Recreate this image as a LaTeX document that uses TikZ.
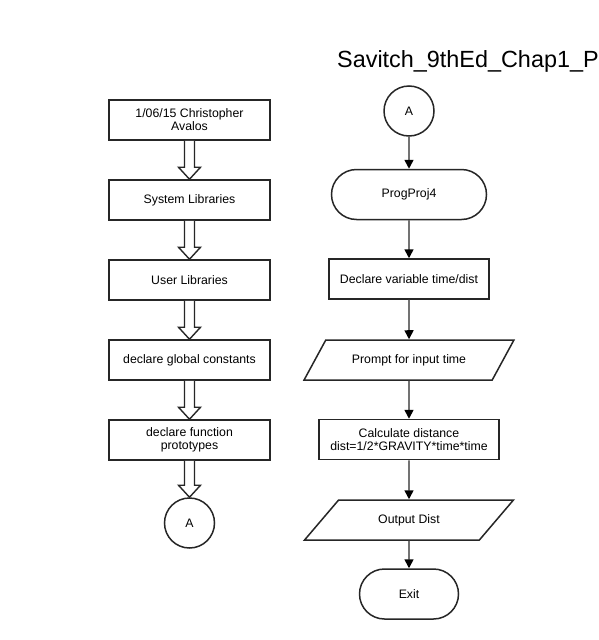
\documentclass[tikz,border=0pt]{standalone}
\usepackage{fontspec}
\setmainfont{Liberation Sans}
\usetikzlibrary{arrows.meta,shapes.geometric,calc}
\begin{document}
\begin{tikzpicture}[x=1pt,y=-1pt,
  base/.style={draw=black!85, line width=1.5pt, inner sep=0pt, align=center,
    font=\fontsize{12.3}{13}\selectfont},
  proc/.style={base, rectangle, minimum height=40pt},
  term/.style={base, rectangle, rounded corners=25pt, minimum height=50pt},
  conn/.style={base, circle, minimum size=50pt},
  io/.style={base, trapezium, trapezium left angle=37.6, trapezium right angle=142.4,
    trapezium stretches=true, minimum width=210pt, minimum height=40pt},
  flow/.style={draw=black!55, line width=1.6pt, -{Triangle[length=9pt,width=9pt,color=black]}},
  hollow/.style={draw=black!85, line width=1.4pt, fill=white, line join=miter}
]
\useasboundingbox (0,0) rectangle (599,640);
\clip (0,0) rectangle (599,640);
\fill[white] (0,0) rectangle (599,640);

\node[anchor=base west, font=\fontsize{23.4}{26}\selectfont, inner sep=0pt] (title) at (337,67) {Savitch\_9thEd\_Chap1\_P};

% left column
\node[proc, minimum width=161pt] (l1) at (189.5,120) {1/06/15 Christopher\\Avalos};
\node[proc, minimum width=161pt] (l2) at (189.5,200) {System Libraries};
\node[proc, minimum width=161pt] (l3) at (189.5,280) {User Libraries};
\node[proc, minimum width=161pt] (l4) at (189.5,360) {declare global constants};
\node[proc, minimum width=161pt] (l5) at (189.5,440) {declare function\\prototypes};
\node[conn] (la) at (189.5,523) {A};

\foreach \a/\b in {l1/l2,l2/l3,l3/l4,l4/l5,l5/la}{
  \draw[hollow] ([xshift=-5pt]\a.south) -- ([xshift=-5pt,yshift=12pt]\b.north)
    -- ([xshift=-11pt,yshift=12pt]\b.north) -- (\b.north)
    -- ([xshift=11pt,yshift=12pt]\b.north) -- ([xshift=5pt,yshift=12pt]\b.north)
    -- ([xshift=5pt]\a.south);
}

% right column
\node[conn] (ra) at (409,111) {A};
\node[term, minimum width=155pt] (r1) at (409,194.5) {ProgProj4};
\node[proc, minimum width=160pt] (r2) at (409,279) {Declare variable time/dist};
\node[io] (r3) at (409,360) {Prompt for input time};
\node[proc, minimum width=180pt] (r4) at (409,439.5) {Calculate distance\\dist=1/2*GRAVITY*time*time};
\node[io] (r5) at (409,520) {Output Dist};
\node[term, minimum width=99pt] (r6) at (409,594) {Exit};

\draw[flow] (ra.south) -- (r1.north);
\draw[flow] (r1.south) -- (r2.north);
\draw[flow] (r2.south) -- (r3.north);
\draw[flow] (r3.south) -- (r4.north);
\draw[flow] (r4.south) -- (r5.north);
\draw[flow] (r5.south) -- (r6.north);
\end{tikzpicture}
\end{document}
